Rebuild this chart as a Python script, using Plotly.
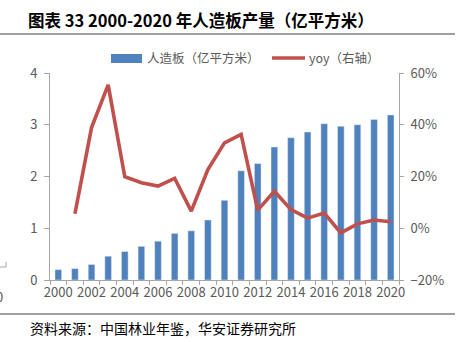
import plotly.graph_objects as go

years = list(range(2000, 2021))
output = [0.20, 0.22, 0.30, 0.46, 0.55, 0.65, 0.75, 0.90, 0.95, 1.16, 1.54,
          2.11, 2.25, 2.57, 2.75, 2.86, 3.02, 2.97, 3.00, 3.10, 3.19]
yoy = [None, 5.6, 38.9, 55.4, 19.9, 17.6, 16.3, 19.3, 6.6, 22.7, 33.0,
       36.3, 7.0, 14.3, 7.2, 3.9, 5.9, -1.8, 1.7, 3.2, 2.5]
xtick_labels = [str(y) for y in years[::2]]

title_text = "图表 33 2000-2020 年人造板产量（亿平方米）"
source_text = "资料来源：中国林业年鉴，华安证券研究所"
bar_name = "人造板（亿平方米）"
line_name = "yoy（右轴）"

W, H = 458, 342
L, R, T, B = 50, 59, 73, 62
PW, PH = W - L - R, H - T - B

def px(x):
    return (x - L) / PW

def py(y):
    return (H - B - y) / PH

BLUE = "#4F81BD"
RED = "#C0504D"
GREY = "#595959"
FONT = "Noto Sans CJK SC"

fig = go.Figure()
fig.add_trace(go.Bar(x=years, y=output, name=bar_name, marker_color=BLUE,
                     width=0.4, showlegend=False))
fig.add_trace(go.Scatter(x=years, y=yoy, name=line_name, mode="lines",
                         line=dict(color=RED, width=3.6), yaxis="y2",
                         showlegend=False))

fig.update_layout(
    width=W, height=H,
    margin=dict(l=L, r=R, t=T, b=B),
    paper_bgcolor="white", plot_bgcolor="white",
    font=dict(family=FONT, color=GREY, size=13),
    xaxis=dict(range=[1999.5, 2020.5], tickmode="array",
               tickvals=years[::2], ticktext=xtick_labels,
               ticks="", showline=True, linecolor="#A6A6A6", linewidth=1,
               showgrid=False, zeroline=False, tickfont=dict(size=13, color=GREY),
               minor=dict(tickmode="linear", tick0=1999.5, dtick=1, ticks="outside",
                          ticklen=4, tickcolor="#A6A6A6", showgrid=False)),
    yaxis=dict(range=[0, 4], dtick=1, showline=True, linecolor="#A6A6A6",
               ticks="outside", ticklen=5, tickcolor="#A6A6A6", showgrid=False,
               zeroline=False, tickfont=dict(size=13, color=GREY),
               ticklabelstandoff=4),
    yaxis2=dict(range=[-20, 60], dtick=20, overlaying="y", side="right",
                showline=True, linecolor="#A6A6A6", ticks="outside", ticklen=4,
                tickcolor="#A6A6A6", showgrid=False, zeroline=False,
                ticksuffix="%", tickfont=dict(size=13, color=GREY),
                ticklabelstandoff=4),
    bargap=0.6,
)

shapes = [
    dict(type="line", xref="paper", yref="paper", x0=px(0), x1=px(455),
         y0=py(34), y1=py(34), line=dict(color="#404040", width=1.2)),
    dict(type="line", xref="paper", yref="paper", x0=px(0), x1=px(455),
         y0=py(314), y1=py(314), line=dict(color="#404040", width=1.2)),
    dict(type="rect", xref="paper", yref="paper", x0=px(111), x1=px(142),
         y0=py(63), y1=py(54), fillcolor=BLUE, line=dict(width=0)),
    dict(type="line", xref="paper", yref="paper", x0=px(272), x1=px(305),
         y0=py(58), y1=py(58), line=dict(color=RED, width=3.6)),
    dict(type="line", xref="paper", yref="paper", x0=px(0), x1=px(6),
         y0=py(267), y1=py(267), line=dict(color="#A6A6A6", width=1)),
    dict(type="line", xref="paper", yref="paper", x0=px(6), x1=px(6),
         y0=py(267), y1=py(262), line=dict(color="#A6A6A6", width=1)),
]
annotations = [
    dict(text=title_text, xref="paper", yref="paper", x=px(26), y=py(20),
         xanchor="left", yanchor="middle", showarrow=False,
         font=dict(size=16.5, color="#000000", family=FONT, weight="bold")),
    dict(text=source_text, xref="paper", yref="paper", x=px(28), y=py(328),
         xanchor="left", yanchor="middle", showarrow=False,
         font=dict(size=14, color="#000000", family=FONT)),
    dict(text=bar_name, xref="paper", yref="paper", x=px(145), y=py(58),
         xanchor="left", yanchor="middle", showarrow=False,
         font=dict(size=12.5, color=GREY, family=FONT)),
    dict(text=line_name, xref="paper", yref="paper", x=px(307), y=py(58),
         xanchor="left", yanchor="middle", showarrow=False,
         font=dict(size=12.5, color=GREY, family=FONT)),
    dict(text="0", xref="paper", yref="paper", x=px(5), y=py(296),
         xanchor="right", yanchor="middle", showarrow=False,
         font=dict(size=13, color=GREY, family=FONT)),
]
fig.update_layout(shapes=shapes, annotations=annotations)

fig.write_html("out.html")
